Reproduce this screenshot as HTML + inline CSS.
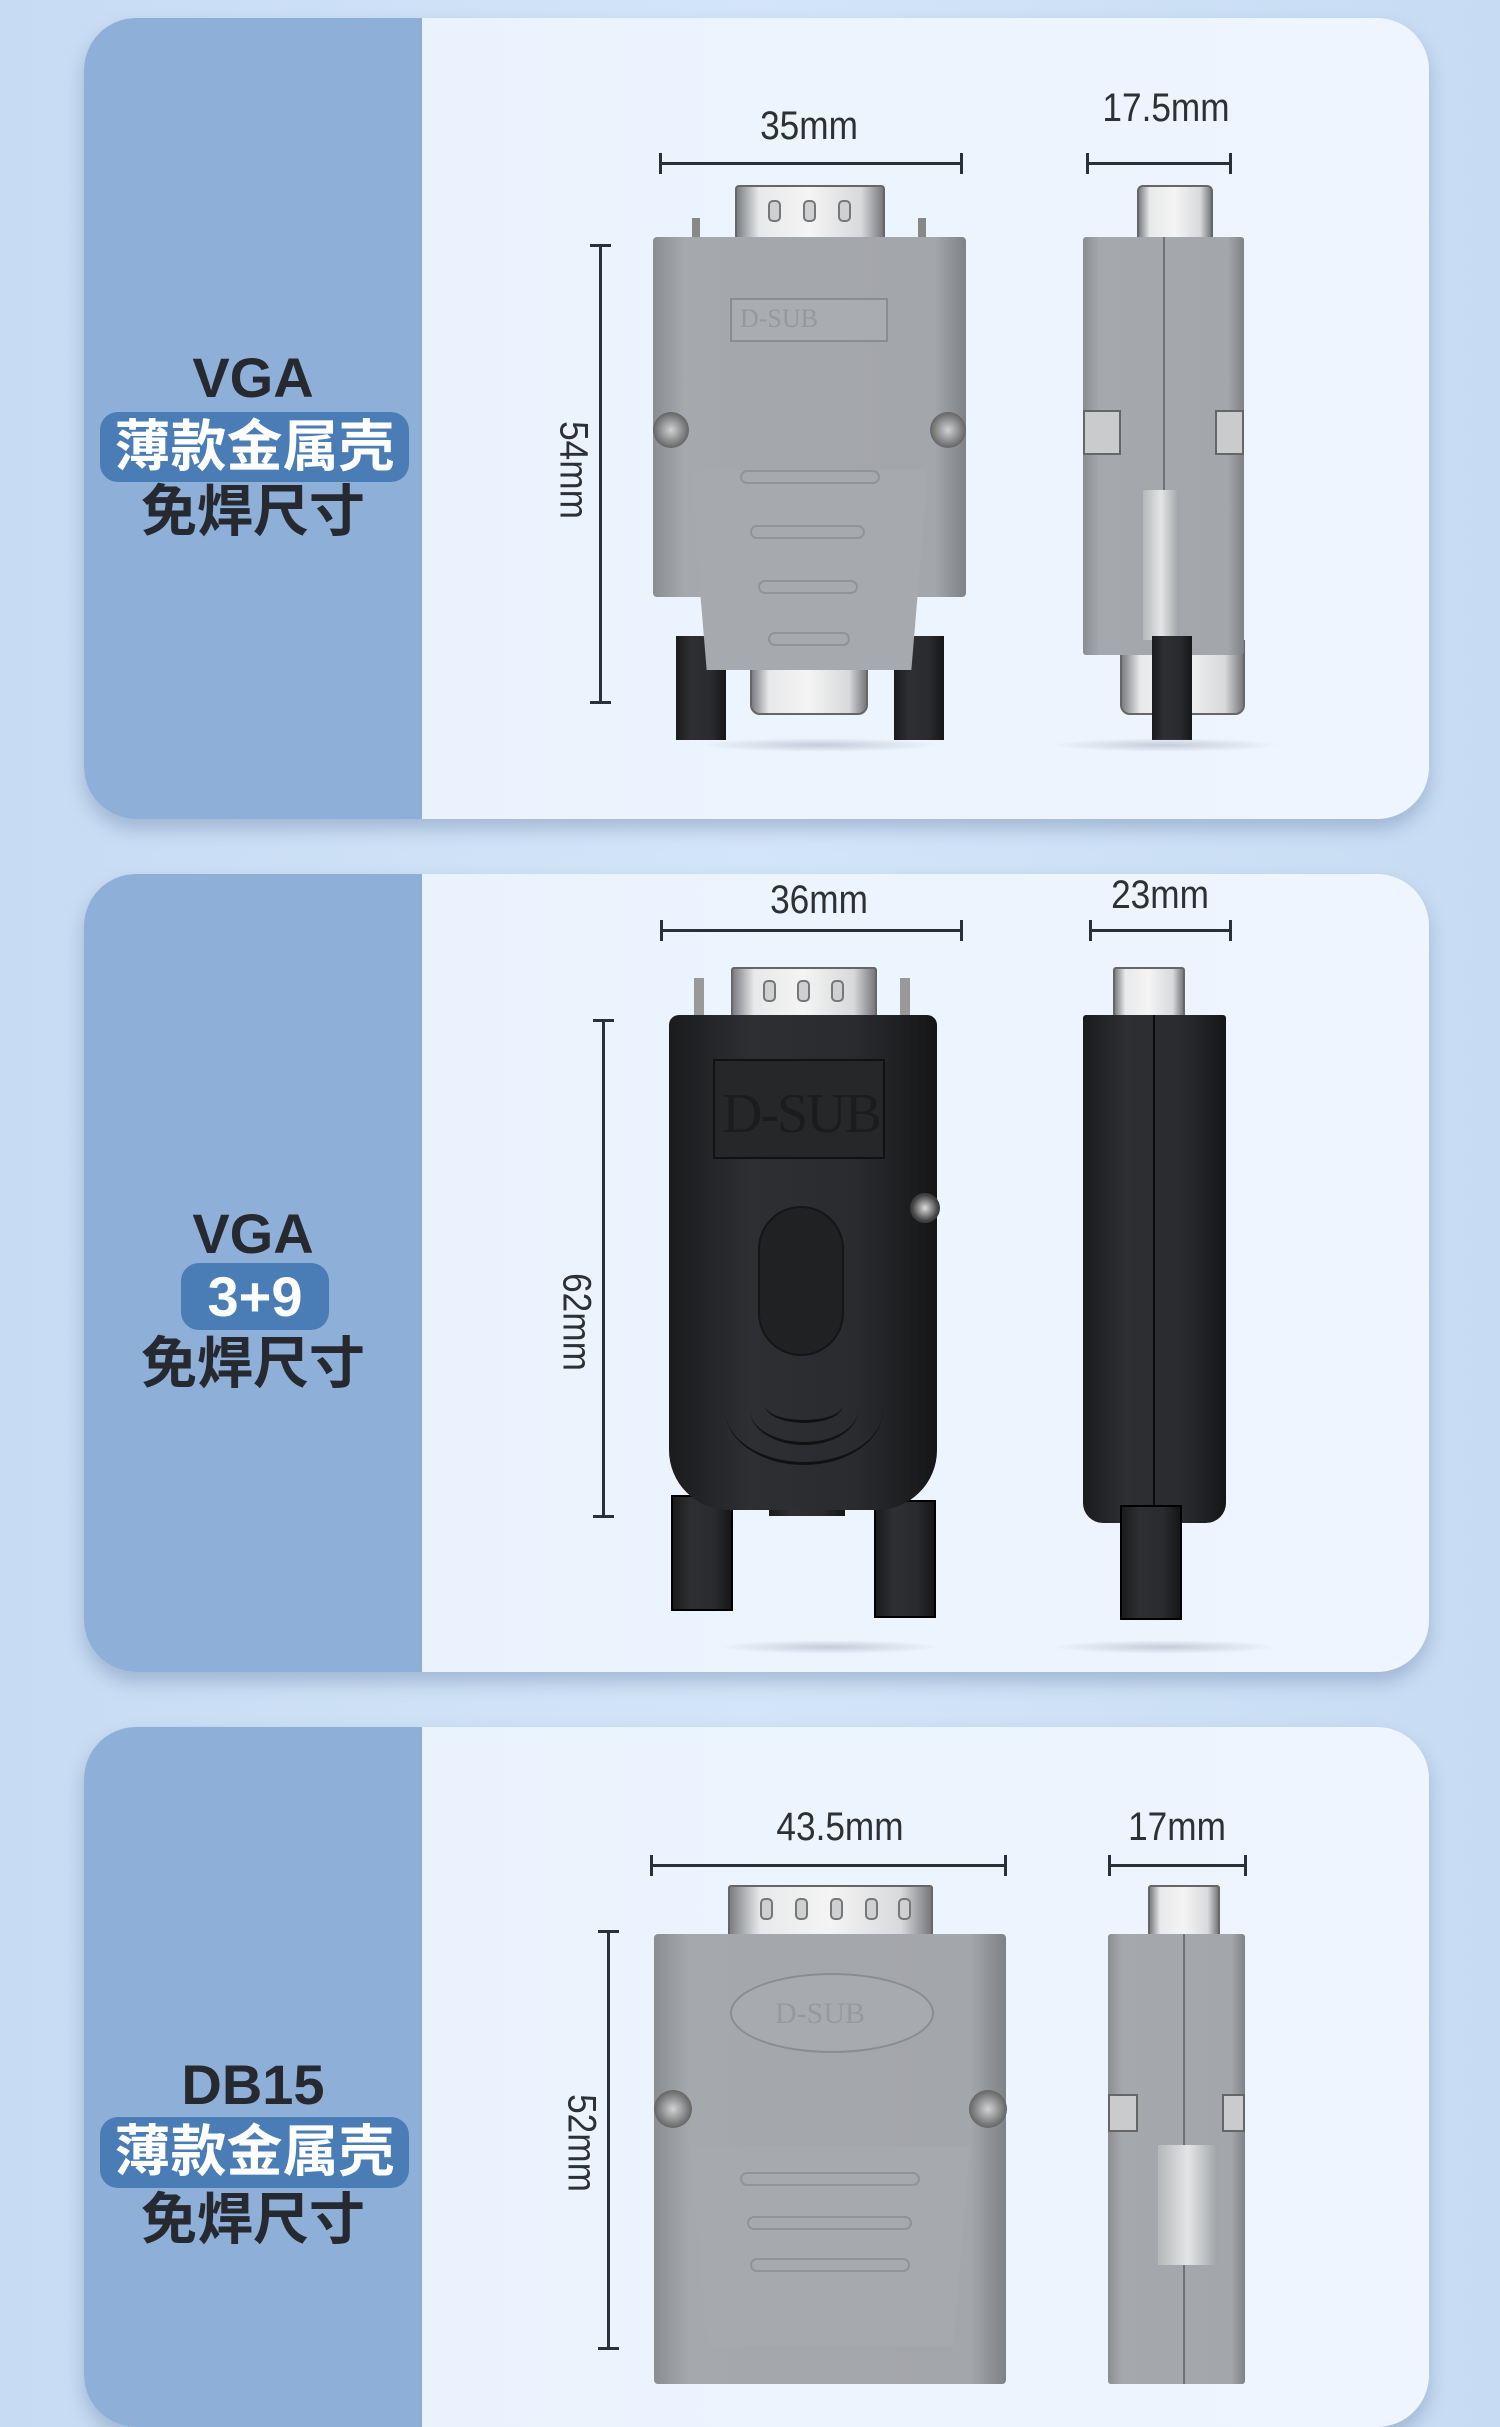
<!DOCTYPE html>
<html><head><meta charset="utf-8">
<style>
*{margin:0;padding:0;box-sizing:border-box}
body{width:1500px;height:2322px;overflow:hidden;background:linear-gradient(90deg,#c7dcf3,#d3e5f8 50%,#c7dcf3);position:relative;font-family:"Liberation Sans","Noto Sans CJK SC",sans-serif}
.card{position:absolute;left:84px;width:1345px;border-radius:52px;overflow:hidden;background:linear-gradient(90deg,#e9f2fd,#eef5fe);box-shadow:0 10px 18px rgba(80,110,150,.35)}
.lp{position:absolute;left:0;top:0;bottom:0;width:338px;background:#8eafd7}
.a{position:absolute}
.t1{position:absolute;left:0;width:338px;text-align:center;font-weight:bold;font-size:56px;color:#262a30;line-height:1}
.badge{position:absolute;background:#4a7db5;border-radius:18px;color:#fff;font-weight:bold;font-size:56px;text-align:center;line-height:70px}
.lab{position:absolute;font-size:40px;color:#2d3035;text-align:center;width:200px;margin-left:-100px;transform:scaleX(.88);line-height:1}
.hl{position:absolute;height:3px;background:#2a3038}
.hl:before,.hl:after{content:"";position:absolute;top:-9px;width:3px;height:21px;background:#2a3038}
.hl:before{left:0}.hl:after{right:0}
.vl{position:absolute;width:3px;background:#2a3038}
.vl:before,.vl:after{content:"";position:absolute;left:-9px;height:3px;width:21px;background:#2a3038}
.vl:before{top:0}.vl:after{bottom:0}
.vlab{position:absolute;font-size:40px;color:#2d3035;transform:rotate(90deg) scaleX(.88);line-height:1;white-space:nowrap}
.g{background:linear-gradient(90deg,#8a8d92,#a5a8ad 10%,#a3a6ab 90%,#7e8186)}
.pin{background:linear-gradient(90deg,#7b7e83,#e8e9ea 15%,#f4f4f4 50%,#d8d9db 85%,#77797d);border:2px solid #666}
.blk{background:linear-gradient(90deg,#1a1b1d,#2e2f32 30%,#2a2b2e 70%,#151618)}
.shadow{position:absolute;height:14px;border-radius:50%;background:radial-gradient(ellipse,rgba(120,130,150,.35),rgba(120,130,150,0) 70%)}
.hole{position:absolute;width:13px;height:22px;border:2px solid #777;border-radius:5px;background:#cfd0d2}
.arc{position:absolute;border-bottom:3px solid #111;border-radius:0 0 50% 50%/0 0 100% 100%}
</style></head><body>

<!-- CARD 1 -->
<div class="card" style="top:18px;height:801px">
 <div class="lp"></div>
 <div class="t1" style="top:332px">VGA</div>
 <div class="badge" style="left:16px;top:394px;width:309px;height:70px">薄款金属壳</div>
 <div class="t1" style="top:466px">免焊尺寸</div>
</div>
<div class="lab" style="left:809px;top:106px">35mm</div>
<div class="hl" style="left:659px;top:162px;width:304px"></div>
<div class="lab" style="left:1166px;top:88px">17.5mm</div>
<div class="hl" style="left:1086px;top:162px;width:146px"></div>
<div class="vl" style="left:599px;top:244px;height:460px"></div>
<div class="vlab" style="left:518px;top:450px">54mm</div>
<!-- front metal -->
<div class="a pin" style="left:735px;top:185px;width:150px;height:54px;border-radius:4px 4px 0 0"></div>
<div class="hole" style="left:768px;top:200px"></div><div class="hole" style="left:803px;top:200px"></div><div class="hole" style="left:838px;top:200px"></div>
<div class="a" style="left:692px;top:218px;width:8px;height:20px;background:#888"></div>
<div class="a" style="left:918px;top:218px;width:8px;height:20px;background:#888"></div>
<div class="a g" style="left:653px;top:237px;width:313px;height:360px;border-radius:4px"></div>
<div class="a" style="left:730px;top:298px;width:158px;height:44px;border:2px solid #8a8c90;background:#a9acb0"></div>
<div class="a" style="left:740px;top:304px;font-family:'Liberation Serif',serif;font-size:26px;color:#95989c">D-SUB</div>
<div class="a" style="left:653px;top:412px;width:36px;height:36px;border-radius:50%;background:radial-gradient(#d0d2d4,#666 70%)"></div>
<div class="a" style="left:930px;top:412px;width:36px;height:36px;border-radius:50%;background:radial-gradient(#d0d2d4,#666 70%)"></div>
<div class="a pin" style="left:750px;top:640px;width:118px;height:75px;border-radius:0 0 10px 10px"></div>
<div class="a blk" style="left:676px;top:636px;width:50px;height:104px"></div>
<div class="a blk" style="left:894px;top:636px;width:50px;height:104px"></div>
<div class="a" style="left:690px;top:470px;width:238px;height:200px;background:#a6a9ad;clip-path:polygon(0 0,100% 0,93% 100%,7% 100%);border-radius:8px"></div>
<div class="a" style="left:740px;top:470px;width:140px;height:14px;border:2px solid #909397;border-radius:8px"></div>
<div class="a" style="left:750px;top:525px;width:115px;height:14px;border:2px solid #909397;border-radius:8px"></div>
<div class="a" style="left:758px;top:580px;width:100px;height:14px;border:2px solid #909397;border-radius:8px"></div>
<div class="a" style="left:768px;top:632px;width:82px;height:14px;border:2px solid #909397;border-radius:8px"></div>
<div class="shadow" style="left:700px;top:738px;width:240px"></div>
<!-- side metal -->
<div class="a pin" style="left:1137px;top:185px;width:76px;height:54px;border-radius:6px 6px 0 0"></div>
<div class="a pin" style="left:1120px;top:640px;width:125px;height:75px;border-radius:0 0 10px 10px"></div>
<div class="a g" style="left:1083px;top:237px;width:161px;height:418px;border-radius:3px"></div>
<div class="a" style="left:1163px;top:237px;width:2px;height:418px;background:#6e7175"></div>
<div class="a" style="left:1083px;top:410px;width:38px;height:45px;border:2px solid #666;background:#c9cbcd"></div>
<div class="a" style="left:1215px;top:410px;width:29px;height:45px;border:2px solid #666;background:#c9cbcd"></div>
<div class="a" style="left:1143px;top:490px;width:36px;height:150px;background:linear-gradient(90deg,#b5b7ba,#e4e5e6,#a0a3a6)"></div>
<div class="a blk" style="left:1152px;top:636px;width:40px;height:104px"></div>
<div class="shadow" style="left:1050px;top:738px;width:230px"></div>

<!-- CARD 2 -->
<div class="card" style="top:874px;height:798px">
 <div class="lp"></div>
 <div class="t1" style="top:332px">VGA</div>
 <div class="badge" style="left:97px;top:389px;width:148px;height:67px;line-height:67px">3+9</div>
 <div class="t1" style="top:462px">免焊尺寸</div>
</div>
<div class="lab" style="left:819px;top:880px">36mm</div>
<div class="hl" style="left:660px;top:929px;width:303px"></div>
<div class="lab" style="left:1160px;top:875px">23mm</div>
<div class="hl" style="left:1089px;top:929px;width:143px"></div>
<div class="vl" style="left:602px;top:1019px;height:499px"></div>
<div class="vlab" style="left:521px;top:1302px">62mm</div>
<!-- front black -->
<div class="a pin" style="left:731px;top:967px;width:146px;height:50px;border-radius:3px 3px 0 0"></div>
<div class="hole" style="left:763px;top:980px"></div><div class="hole" style="left:797px;top:980px"></div><div class="hole" style="left:831px;top:980px"></div>
<div class="a" style="left:694px;top:978px;width:10px;height:38px;background:#999"></div>
<div class="a" style="left:900px;top:978px;width:10px;height:38px;background:#999"></div>
<div class="a blk" style="left:769px;top:1490px;width:76px;height:26px"></div>
<div class="a blk" style="left:671px;top:1495px;width:62px;height:116px;border:2px solid #000"></div>
<div class="a blk" style="left:874px;top:1500px;width:62px;height:118px;border:2px solid #000"></div>
<div class="a blk" style="left:669px;top:1015px;width:268px;height:495px;border-radius:10px 10px 60px 60px"></div>
<div class="a" style="left:713px;top:1059px;width:172px;height:100px;border:2px solid #111;background:#262729"></div>
<div class="a" style="left:722px;top:1082px;font-family:'Liberation Serif',serif;font-size:56px;color:#1b1c1e;letter-spacing:-2px">D-SUB</div>
<div class="a" style="left:758px;top:1206px;width:86px;height:150px;border-radius:43px;background:#202123;border:2px solid #151515"></div>
<div class="a" style="left:910px;top:1193px;width:30px;height:30px;border-radius:50%;background:radial-gradient(#ddd,#444 60%,#222)"></div>
<div class="arc" style="left:765px;top:1405px;width:78px;height:18px"></div>
<div class="arc" style="left:750px;top:1410px;width:108px;height:35px"></div>
<div class="arc" style="left:725px;top:1410px;width:158px;height:55px"></div>
<div class="shadow" style="left:720px;top:1640px;width:220px"></div>
<!-- side black -->
<div class="a pin" style="left:1113px;top:967px;width:72px;height:50px;border-radius:3px 3px 0 0"></div>
<div class="a blk" style="left:1083px;top:1015px;width:143px;height:508px;border-radius:3px 3px 20px 20px"></div>
<div class="a" style="left:1153px;top:1015px;width:2px;height:508px;background:#0b0b0c"></div>
<div class="a blk" style="left:1120px;top:1505px;width:62px;height:115px;border:2px solid #000"></div>
<div class="shadow" style="left:1050px;top:1640px;width:230px"></div>

<!-- CARD 3 -->
<div class="card" style="top:1727px;height:700px">
 <div class="lp"></div>
 <div class="t1" style="top:330px">DB15</div>
 <div class="badge" style="left:16px;top:390px;width:309px;height:71px">薄款金属壳</div>
 <div class="t1" style="top:465px">免焊尺寸</div>
</div>
<div class="lab" style="left:840px;top:1807px">43.5mm</div>
<div class="hl" style="left:650px;top:1864px;width:357px"></div>
<div class="lab" style="left:1177px;top:1807px">17mm</div>
<div class="hl" style="left:1108px;top:1864px;width:139px"></div>
<div class="vl" style="left:607px;top:1930px;height:420px"></div>
<div class="vlab" style="left:526px;top:2123px">52mm</div>
<div class="a pin" style="left:728px;top:1885px;width:205px;height:51px;border-radius:3px 3px 0 0"></div>
<div class="hole" style="left:760px;top:1898px"></div><div class="hole" style="left:795px;top:1898px"></div><div class="hole" style="left:830px;top:1898px"></div><div class="hole" style="left:865px;top:1898px"></div><div class="hole" style="left:898px;top:1898px"></div>
<div class="a g" style="left:654px;top:1934px;width:352px;height:450px;border-radius:4px"></div>
<div class="a" style="left:730px;top:1973px;width:204px;height:80px;border:2px solid #8a8c90;border-radius:50%;background:#a7aaae"></div>
<div class="a" style="left:775px;top:1997px;font-family:'Liberation Serif',serif;font-size:30px;color:#96999d">D-SUB</div>
<div class="a" style="left:654px;top:2090px;width:38px;height:38px;border-radius:50%;background:radial-gradient(#d0d2d4,#666 70%)"></div>
<div class="a" style="left:969px;top:2090px;width:38px;height:38px;border-radius:50%;background:radial-gradient(#d0d2d4,#666 70%)"></div>
<div class="a" style="left:690px;top:2146px;width:280px;height:200px;background:#a6a9ad;clip-path:polygon(0 0,100% 0,94% 100%,6% 100%)"></div>
<div class="a" style="left:740px;top:2172px;width:180px;height:14px;border:2px solid #909397;border-radius:8px"></div>
<div class="a" style="left:747px;top:2216px;width:165px;height:14px;border:2px solid #909397;border-radius:8px"></div>
<div class="a" style="left:750px;top:2258px;width:160px;height:14px;border:2px solid #909397;border-radius:8px"></div>
<!-- side -->
<div class="a pin" style="left:1148px;top:1885px;width:72px;height:51px;border-radius:3px 3px 0 0"></div>
<div class="a g" style="left:1108px;top:1934px;width:137px;height:450px;border-radius:3px"></div>
<div class="a" style="left:1183px;top:1934px;width:2px;height:450px;background:#6e7175"></div>
<div class="a" style="left:1108px;top:2094px;width:30px;height:38px;border:2px solid #666;background:#c9cbcd"></div>
<div class="a" style="left:1222px;top:2094px;width:23px;height:38px;border:2px solid #666;background:#c9cbcd"></div>
<div class="a" style="left:1158px;top:2145px;width:60px;height:120px;background:linear-gradient(90deg,#b5b7ba,#e4e5e6,#a0a3a6)"></div>
</body></html>
